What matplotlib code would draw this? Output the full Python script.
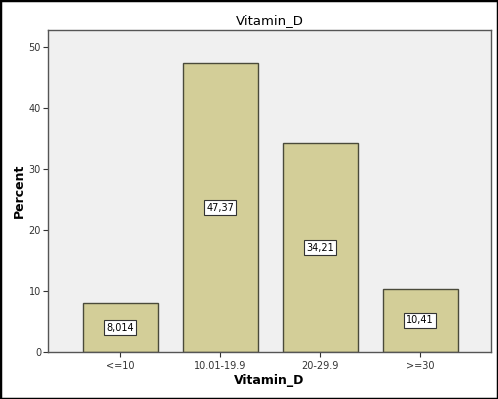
import matplotlib.pyplot as plt
from matplotlib.patches import Rectangle

categories = ['<=10', '10.01-19.9', '20-29.9', '>=30']
percent = [8.014, 47.37, 34.21, 10.41]
bar_labels = ['8,014', '47,37', '34,21', '10,41']
y_ticks = [0, 10, 20, 30, 40, 50]

fig = plt.figure(figsize=(4.98, 3.99), dpi=100)
ax = fig.add_axes([48 / 498, 47 / 399, 443 / 498, 322 / 399])
ax.set_facecolor('#f0f0f0')

x = range(len(categories))
ax.bar(x, percent, width=0.75, color='#d3ce98', edgecolor='#4a4a3a', linewidth=1.0)

for i, v in enumerate(percent):
    ax.text(i, v / 2, bar_labels[i], ha='center', va='center', fontsize=7,
            bbox=dict(boxstyle='square,pad=0.25', fc='white', ec='#333333', lw=0.8))

ax.set_xlim(-0.72, 3.71)
ax.set_ylim(0, 52.8)
ax.set_xticks(list(x))
ax.set_xticklabels(categories)
ax.set_yticks(y_ticks)
ax.tick_params(labelsize=7, colors='#333333', length=3.5, width=0.8, pad=1.5)
ax.tick_params(axis='x', pad=3)

for s in ax.spines.values():
    s.set_color('#555555')
    s.set_linewidth(1.0)

ax.set_title('Vitamin_D', fontsize=9.5, pad=4)
ax.set_xlabel('Vitamin_D', fontsize=9, fontweight='bold', labelpad=2)
ax.set_ylabel('Percent', fontsize=9, fontweight='bold', labelpad=2)

# black frame around the whole figure
fig.patches.append(Rectangle((0, 0), 1, 1, transform=fig.transFigure, fill=False,
                             edgecolor='black', linewidth=2.5, zorder=10))

fig.savefig('out.png', dpi=100)
